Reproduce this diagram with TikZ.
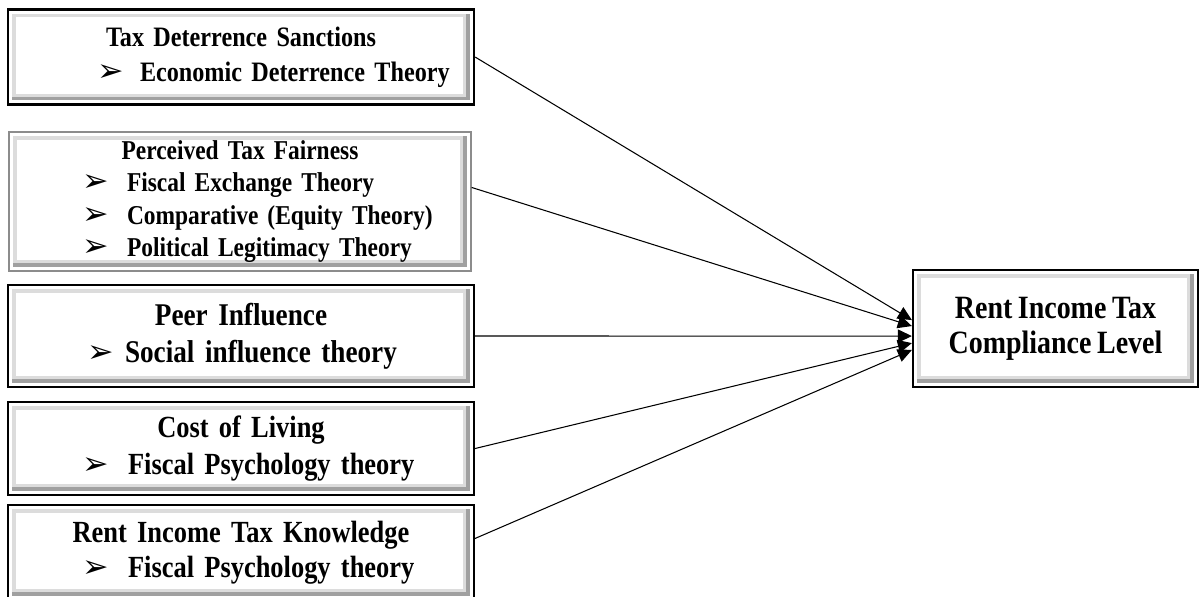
\documentclass[tikz,border=0pt]{standalone}
\usepackage{fontspec}
\setmainfont{Liberation Serif}[FakeStretch=0.86, WordSpace=0.8]
\newfontfamily\arrowfont{DejaVu Sans}
\usetikzlibrary{arrows.meta}
\definecolor{bevelgray}{RGB}{160,160,160}
\definecolor{bevellight}{RGB}{220,220,220}
\definecolor{framegray}{RGB}{140,140,140}

% bullet line: indent, gap to text, text
\newcommand{\theorypoint}[3]{\makebox[\hsize][l]{\hspace*{#1}\makebox[#2][l]{\arrowfont\fontsize{18}{18}\selectfont\symbol{"27A2}}#3}}

\begin{document}
\begin{tikzpicture}[x=0.02cm,y=-0.02cm,
  bevel/.style={draw=black, line width=1.3pt, fill=white, inner sep=0pt, align=center,
    path picture={
      \fill[bevelgray] ([shift={(2.5pt,2.5pt)}]path picture bounding box.south west) rectangle ([shift={(-2.5pt,-2.5pt)}]path picture bounding box.north east);
      \fill[bevellight] ([shift={(2.5pt,4.5pt)}]path picture bounding box.south west) rectangle ([shift={(-4.5pt,-2.5pt)}]path picture bounding box.north east);
      \fill[white] ([shift={(4.5pt,6pt)}]path picture bounding box.south west) rectangle ([shift={(-6pt,-4.5pt)}]path picture bounding box.north east);
    }},
  feeds/.style={-{Triangle[length=8pt,width=7.5pt]}, line width=0.6pt}]
\useasboundingbox (0,0) rectangle (1203,596);
\clip (0,0) rectangle (1203,596);
% factor boxes
\node[bevel, minimum width=9.32cm, minimum height=1.9cm, text width=9.32cm,
      font=\bfseries\fontsize{16}{20}\selectfont] (deter) at (241,57)
  {Tax Deterrence Sanctions\\ \theorypoint{1.78cm}{0.86cm}{Economic Deterrence Theory}};
\node[bevel, draw=framegray, line width=0.8pt, minimum width=9.24cm, minimum height=2.78cm, text width=9.24cm,
      font=\bfseries\fontsize{15.5}{18.5}\selectfont] (fair) at (240,201.5)
  {Perceived Tax Fairness\\
   \theorypoint{1.46cm}{0.9cm}{Fiscal Exchange Theory}\\
   \theorypoint{1.46cm}{0.9cm}{Comparative (Equity Theory)}\\
   \theorypoint{1.46cm}{0.9cm}{Political Legitimacy Theory}};
\node[bevel, minimum width=9.32cm, minimum height=2.04cm, text width=9.32cm,
      font=\bfseries\fontsize{18}{21}\selectfont] (peer) at (241,336)
  {Peer Influence\\ \theorypoint{1.58cm}{0.76cm}{Social influence theory}};
\node[bevel, minimum width=9.32cm, minimum height=1.86cm, text width=9.32cm,
      font=\bfseries\fontsize{17.5}{21}\selectfont] (cost) at (241,448.5)
  {Cost of Living\\ \theorypoint{1.48cm}{0.92cm}{Fiscal Psychology theory}};
\node[bevel, minimum width=9.32cm, minimum height=1.9cm, text width=9.32cm,
      font=\bfseries\fontsize{17.5}{20}\selectfont] (know) at (241,552.5)
  {Rent Income Tax Knowledge\\ \theorypoint{1.48cm}{0.92cm}{Fiscal Psychology theory}};
% outcome box
\node[bevel, minimum width=5.7cm, minimum height=2.34cm,
      font=\bfseries\fontsize{18.5}{20}\selectfont] (level) at (1055.5,328.5)
  {Rent Income Tax\\Compliance Level};
% arrows
\draw[feeds] (deter.east) -- ([yshift=4.8pt]level.west);
\draw[feeds] ([yshift=8pt]fair.east) -- ([yshift=1.4pt]level.west);
\draw[feeds] (peer.east) -- ([yshift=-4.3pt]level.west);
\draw[feeds] (cost.east) -- ([yshift=-8.3pt]level.west);
\draw[feeds] ([yshift=8pt]know.east) -- ([yshift=-12.2pt]level.west);
\end{tikzpicture}
\end{document}
